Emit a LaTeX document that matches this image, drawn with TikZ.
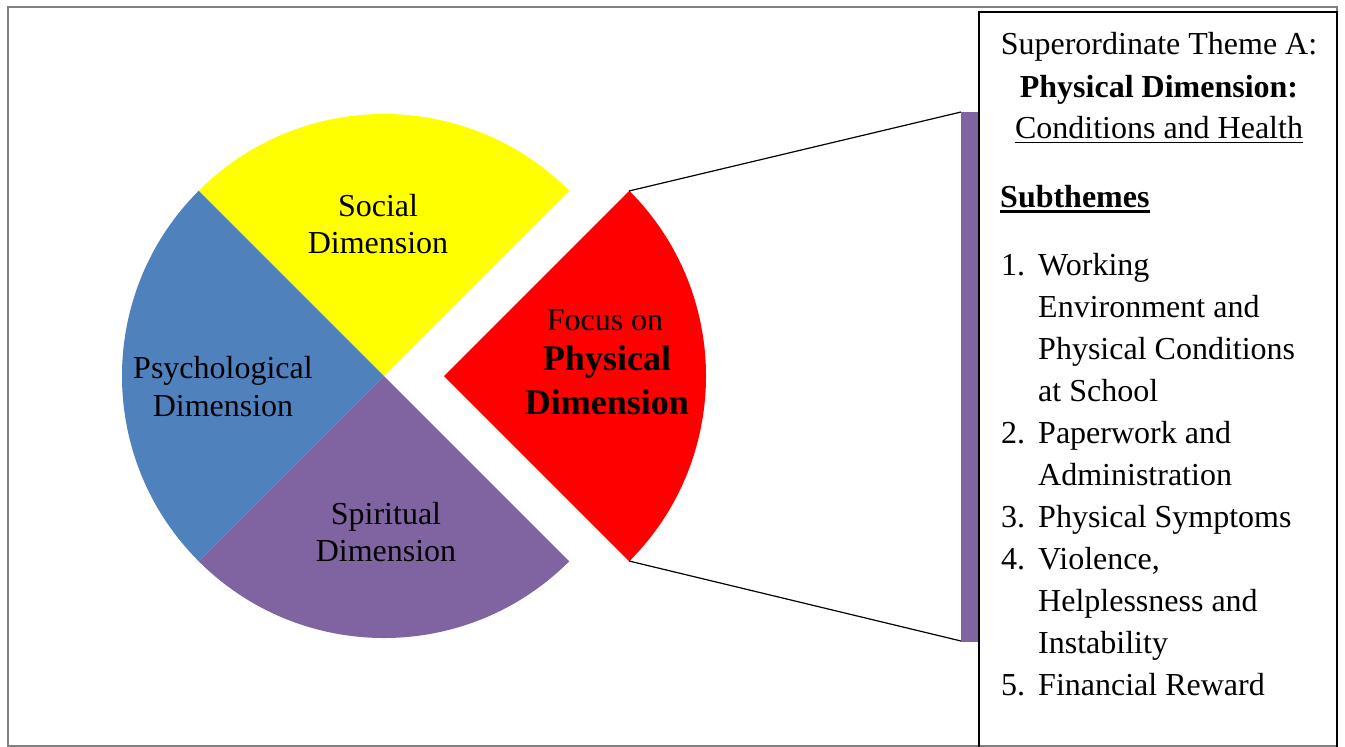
\documentclass[tikz,border=0pt]{standalone}
\usepackage{fontspec}
\setmainfont{Liberation Serif}
\definecolor{pieyellow}{HTML}{FFFF00}
\definecolor{pieblue}{HTML}{4F81BD}
\definecolor{piepurple}{HTML}{8064A2}
\definecolor{piered}{HTML}{FF0000}
\definecolor{framegray}{HTML}{808080}
\begin{document}
\begin{tikzpicture}[x=1pt,y=-1pt,
  lbl/.style={inner sep=0pt, anchor=base, font=\fontsize{32}{37}\selectfont},
  blbl/.style={inner sep=0pt, anchor=base, font=\fontsize{36}{42}\selectfont\bfseries},
  boxc/.style={inner sep=0pt, anchor=base, font=\fontsize{32}{42}\selectfont},
  boxl/.style={inner sep=0pt, anchor=base west, font=\fontsize{32}{42}\selectfont},
  link/.style={draw=black, line width=1.2pt},
  uline/.style={draw=black, line width=1.6pt}]
\useasboundingbox (0,0) rectangle (1345,747);
\clip (0,0) rectangle (1345,747);
\fill[white] (0,0) rectangle (1345,747);
\draw[framegray, line width=2pt] (8,7) rectangle (1337,746);
% pie
\coordinate (c) at (384,376);
\fill[pieyellow] (c) -- ++(-45:262) arc[start angle=-45, end angle=-135, radius=262] -- cycle;
\fill[pieblue] (c) -- ++(-135:262) arc[start angle=-135, end angle=-225, radius=262] -- cycle;
\fill[piepurple] (c) -- ++(-225:262) arc[start angle=-225, end angle=-315, radius=262] -- cycle;
\coordinate (rc) at (444,376);
\fill[piered] (rc) -- ++(45:262) arc[start angle=45, end angle=-45, radius=262] -- cycle;
% connectors
\coordinate (rt) at (629,191);
\coordinate (rb) at (629,561);
\coordinate (bt) at (961,112);
\coordinate (bb) at (961,641);
\draw[link] (rt) -- (bt);
\draw[link] (rb) -- (bb);
\fill[piepurple] (961,112) rectangle (979,642);
\draw[black, line width=1.8pt] (979,12) rectangle (1337,780);
% pie labels
\node[lbl] (soc1) at (378,216) {Social};
\node[lbl] (soc2) at (378,253) {Dimension};
\node[lbl] (psy1) at (223,378) {Psychological};
\node[lbl] (psy2) at (223,416) {Dimension};
\node[lbl] (spi1) at (386,524) {Spiritual};
\node[lbl] (spi2) at (386,561) {Dimension};
\node[lbl] (foc1) at (605,330) {Focus on};
\node[blbl] (foc2) at (607,370) {Physical};
\node[blbl] (foc3) at (607,414) {Dimension};
% box text
\node[boxc] (t1) at (1159,54) {Superordinate Theme A:};
\node[boxc] (t2) at (1159,97) {\bfseries Physical Dimension:};
\node[boxc] (t3) at (1159,138) {Conditions and Health};
\draw[uline] ([yshift=-4.5pt]t3.base west) -- ([yshift=-4.5pt]t3.base east);
\node[boxl] (sub) at (1000,207) {\bfseries Subthemes};
\draw[uline, line width=2.2pt] ([yshift=-4.5pt]sub.base west) -- ([yshift=-4.5pt]sub.base east);
\node[boxl] (n1) at (1001,275) {1.};
\node[boxl] (i1a) at (1038,275) {Working};
\node[boxl] (i1b) at (1038,317) {Environment and};
\node[boxl] (i1c) at (1038,359) {Physical Conditions};
\node[boxl] (i1d) at (1038,401) {at School};
\node[boxl] (n2) at (1001,443) {2.};
\node[boxl] (i2a) at (1038,443) {Paperwork and};
\node[boxl] (i2b) at (1038,485) {Administration};
\node[boxl] (n3) at (1001,527) {3.};
\node[boxl] (i3a) at (1038,527) {Physical Symptoms};
\node[boxl] (n4) at (1001,569) {4.};
\node[boxl] (i4a) at (1038,569) {Violence,};
\node[boxl] (i4b) at (1038,611) {Helplessness and};
\node[boxl] (i4c) at (1038,653) {Instability};
\node[boxl] (n5) at (1001,695) {5.};
\node[boxl] (i5a) at (1038,695) {Financial Reward};
\end{tikzpicture}
\end{document}
